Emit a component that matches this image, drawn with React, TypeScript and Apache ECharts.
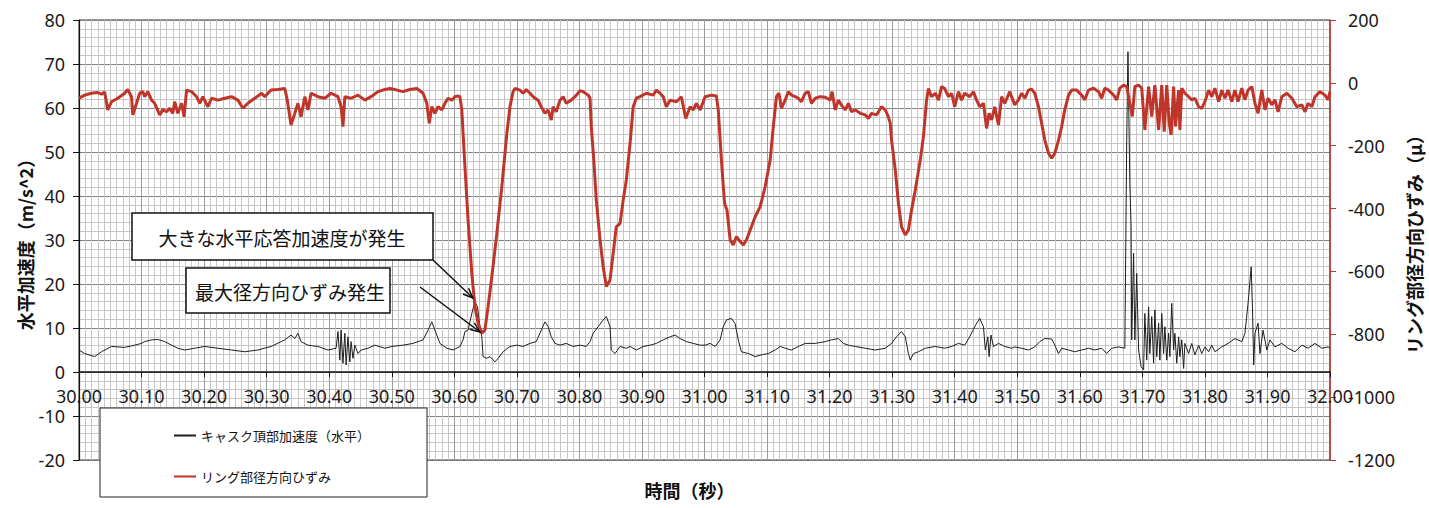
import React, { useEffect, useRef } from "react";
import * as echarts from "echarts";

const NUM_FONT = '"Noto Sans", "Noto Sans CJK JP", sans-serif';
const CJK_FONT = '"Noto Sans CJK JP", "Noto Sans", sans-serif';

const X_MIN = 30.0;
const X_MAX = 32.0;
const X_STEP = 0.1;
const ACC_MIN = -20;
const ACC_MAX = 80;
const ACC_STEP = 10;
const STRAIN_MIN = -1200;
const STRAIN_MAX = 200;
const STRAIN_STEP = 200;

const ACC_NAME = "キャスク頂部加速度（水平）";
const STRAIN_NAME = "リング部径方向ひずみ";
const X_TITLE = "時間（秒）";
const Y_LEFT_TITLE = "水平加速度（m/s^2）";
const Y_RIGHT_TITLE = "リング部径方向ひずみ（μ）";
const NOTE_ACC = "大きな水平応答加速度が発生";
const NOTE_STRAIN = "最大径方向ひずみ発生";

// キャスク頂部加速度（水平） [m/s^2]
const accTimes = [
  30.000, 30.009, 30.025, 30.036, 30.052, 30.073, 30.089, 30.100, 30.105, 30.116,
  30.126, 30.137, 30.148, 30.158, 30.169, 30.185, 30.201, 30.222, 30.244, 30.265,
  30.286, 30.307, 30.329, 30.339, 30.345, 30.350, 30.355, 30.366, 30.382, 30.398,
  30.411, 30.414, 30.417, 30.419, 30.422, 30.425, 30.427, 30.430, 30.433, 30.435,
  30.438, 30.441, 30.446, 30.451, 30.462, 30.473, 30.489,
  30.500, 30.518, 30.534, 30.550, 30.558, 30.564, 30.569, 30.577, 30.588, 30.598,
  30.609, 30.614, 30.617, 30.622, 30.628, 30.633, 30.637, 30.641, 30.644, 30.646,
  30.652, 30.657, 30.665, 30.670, 30.678, 30.689, 30.700, 30.710, 30.721, 30.731,
  30.739, 30.745, 30.750, 30.755, 30.761, 30.769, 30.779, 30.790, 30.801, 30.811,
  30.817, 30.822, 30.830, 30.838, 30.843, 30.849, 30.851, 30.857, 30.865, 30.875,
  30.881, 30.891, 30.902, 30.913, 30.923, 30.934, 30.945, 30.953, 30.961, 30.971,
  30.982, 30.993,
  31.001, 31.009, 31.017, 31.025, 31.030, 31.035, 31.043, 31.049, 31.054, 31.059,
  31.070, 31.081, 31.091, 31.102, 31.113, 31.121, 31.129, 31.139, 31.150, 31.161,
  31.177, 31.193, 31.203, 31.214, 31.222, 31.230, 31.241, 31.257, 31.273, 31.289,
  31.299, 31.307, 31.315, 31.321, 31.326, 31.329, 31.334, 31.342, 31.353, 31.369,
  31.384, 31.395, 31.406, 31.416, 31.424, 31.432, 31.440, 31.446, 31.449, 31.453,
  31.455, 31.458, 31.462, 31.470, 31.480, 31.491,
  31.496, 31.507, 31.518, 31.528, 31.536, 31.544, 31.555, 31.560, 31.566, 31.571,
  31.582, 31.592, 31.603, 31.614, 31.624, 31.635, 31.643, 31.651, 31.662, 31.672,
  31.675, 31.677, 31.679, 31.680, 31.682, 31.683, 31.686, 31.688, 31.691, 31.694,
  31.698, 31.702, 31.704, 31.707, 31.710, 31.712, 31.715, 31.718, 31.720, 31.723,
  31.726, 31.728, 31.731, 31.734, 31.736, 31.739, 31.742, 31.744, 31.747, 31.750,
  31.752, 31.755, 31.758, 31.760, 31.763, 31.766, 31.768, 31.774, 31.779, 31.784,
  31.790, 31.795, 31.800, 31.806, 31.811, 31.816, 31.827, 31.837, 31.848, 31.859,
  31.864, 31.869, 31.874, 31.876, 31.878, 31.880, 31.885, 31.888, 31.893, 31.899,
  31.904, 31.912, 31.923, 31.933, 31.944, 31.955, 31.965, 31.976, 31.987, 31.997,
  32.000,
];
const accValues = [
  5.0, 4.2, 3.5, 4.6, 5.8, 5.6, 6.1, 6.5, 6.9, 7.3,
  7.4, 6.9, 6.1, 5.4, 5.0, 5.4, 5.8, 5.4, 5.0, 4.6,
  5.0, 5.8, 7.3, 8.4, 7.6, 8.8, 6.9, 6.1, 5.8, 5.0,
  5.4, 9.2, 2.7, 9.5, 2.0, 8.8, 1.6, 8.0, 2.3, 6.9,
  3.1, 6.1, 4.2, 5.0, 5.4, 6.1, 5.4,
  5.8, 6.1, 6.5, 7.3, 9.5, 11.4, 9.5, 6.5, 5.4, 5.0,
  5.8, 7.3, 9.2, 9.5, 13.3, 16.0, 14.8, 10.3, 8.0, 3.5,
  3.1, 3.5, 2.3, 3.1, 4.6, 5.8, 6.1, 5.8, 6.5, 6.9,
  9.5, 11.4, 10.3, 8.0, 6.5, 6.1, 6.5, 5.8, 6.1, 5.8,
  6.9, 8.8, 10.3, 11.8, 12.6, 10.3, 5.0, 4.2, 5.8, 5.4,
  5.8, 5.0, 5.8, 6.1, 6.5, 7.3, 8.0, 8.4, 7.6, 6.9,
  6.5, 6.1,
  6.1, 6.5, 5.8, 7.3, 10.3, 11.8, 12.2, 11.0, 7.3, 4.6,
  4.2, 3.5, 3.9, 4.2, 5.0, 5.8, 5.4, 5.0, 5.8, 6.5,
  6.5, 6.9, 7.3, 7.6, 6.5, 6.1, 5.8, 5.4, 5.0, 5.4,
  6.5, 8.0, 9.2, 8.0, 4.2, 2.7, 4.2, 4.6, 5.4, 5.8,
  5.4, 5.8, 6.5, 6.1, 8.0, 10.3, 12.2, 10.3, 5.0, 8.0,
  3.5, 8.4, 5.8, 6.5, 5.8, 5.4,
  5.7, 5.4, 5.0, 5.7, 6.9, 7.6, 7.5, 6.1, 4.2, 5.4,
  5.0, 4.6, 5.0, 5.4, 5.0, 5.4, 4.2, 5.4, 5.7, 5.4,
  52.7, 72.8, 52.7, 42.9, 33.0, 7.3, 27.0, 7.3, 22.4, 5.0,
  1.2, 0.5, 13.3, 2.7, 14.8, 4.2, 12.6, 2.0, 14.1, 3.5,
  11.1, 2.7, 13.3, 4.2, 10.3, 2.7, 8.8, 3.5, 15.6, 5.0,
  8.8, 2.0, 8.0, 3.5, 7.3, 0.8, 6.5, 4.2, 6.5, 3.9,
  6.1, 4.2, 5.7, 4.6, 6.1, 4.6, 5.7, 6.5, 7.6, 6.9,
  8.8, 15.6, 23.9, 14.8, 1.6, 8.8, 11.1, 4.2, 9.5, 5.0,
  7.3, 5.7, 6.5, 5.4, 4.6, 6.1, 5.4, 6.5, 5.4, 5.7,
  5.4,
];

// リング部径方向ひずみ [μ]
const strainTimes = [
  30.000, 30.009, 30.020, 30.030, 30.036, 30.041, 30.046, 30.052, 30.062, 30.073,
  30.078, 30.084, 30.086, 30.092, 30.097, 30.102, 30.105, 30.110, 30.116, 30.121,
  30.129, 30.134, 30.140, 30.145, 30.150, 30.153, 30.158, 30.164, 30.168, 30.172,
  30.180, 30.188, 30.193, 30.198, 30.206, 30.212, 30.222, 30.233, 30.244, 30.254,
  30.262, 30.270, 30.281, 30.292, 30.297, 30.307, 30.318, 30.329, 30.333, 30.339,
  30.345, 30.350, 30.355, 30.361, 30.366, 30.371, 30.382, 30.393, 30.403, 30.414,
  30.419, 30.422, 30.425, 30.435, 30.446, 30.457, 30.467, 30.478, 30.489,
  30.497, 30.508, 30.518, 30.529, 30.540, 30.545, 30.550, 30.556, 30.560, 30.564,
  30.569, 30.574, 30.580, 30.585, 30.590, 30.596, 30.601, 30.606, 30.609, 30.612,
  30.617, 30.622, 30.628, 30.633, 30.638, 30.644, 30.649, 30.654, 30.660, 30.668,
  30.676, 30.684, 30.689, 30.694, 30.697, 30.705, 30.710, 30.715, 30.721, 30.726,
  30.734, 30.739, 30.745, 30.750, 30.755, 30.758, 30.763, 30.769, 30.774, 30.779,
  30.787, 30.793, 30.801, 30.806, 30.814, 30.817, 30.819, 30.823, 30.827, 30.833,
  30.838, 30.843, 30.849, 30.854, 30.859, 30.865, 30.870, 30.875, 30.881, 30.886,
  30.891, 30.897, 30.907, 30.918, 30.923, 30.929, 30.934, 30.939, 30.945, 30.955,
  30.963, 30.970, 30.977, 30.982, 30.987, 30.993,
  31.001, 31.011, 31.019, 31.022, 31.027, 31.032, 31.036, 31.041, 31.046, 31.051,
  31.057, 31.062, 31.067, 31.075, 31.081, 31.089, 31.097, 31.105, 31.110, 31.115,
  31.119, 31.123, 31.129, 31.134, 31.139, 31.145, 31.150, 31.155, 31.161, 31.166,
  31.171, 31.177, 31.185, 31.193, 31.201, 31.204, 31.209, 31.214, 31.219, 31.225,
  31.230, 31.235, 31.241, 31.249, 31.257, 31.262, 31.267, 31.275, 31.283, 31.289,
  31.294, 31.297, 31.299, 31.305, 31.310, 31.315, 31.321, 31.326, 31.331, 31.337,
  31.345, 31.350, 31.355, 31.358, 31.363, 31.369, 31.374, 31.379, 31.384, 31.390,
  31.395, 31.400, 31.406, 31.411, 31.416, 31.424, 31.430, 31.435, 31.440, 31.446,
  31.451, 31.455, 31.459, 31.464, 31.470, 31.475, 31.480, 31.488,
  31.496, 31.502, 31.507, 31.512, 31.518, 31.523, 31.528, 31.534, 31.539, 31.544,
  31.550, 31.555, 31.560, 31.566, 31.571, 31.576, 31.582, 31.587, 31.595, 31.603,
  31.608, 31.614, 31.622, 31.630, 31.635, 31.640, 31.646, 31.654, 31.659, 31.664,
  31.670, 31.675, 31.680, 31.684, 31.688, 31.694, 31.699, 31.704, 31.710, 31.715,
  31.720, 31.726, 31.731, 31.735, 31.739, 31.743, 31.746, 31.750, 31.753, 31.758,
  31.760, 31.763, 31.768, 31.774, 31.779, 31.784, 31.790, 31.795, 31.800, 31.806,
  31.811, 31.816, 31.822, 31.827, 31.832, 31.837, 31.843, 31.848, 31.853, 31.859,
  31.864, 31.869, 31.875, 31.880, 31.885, 31.891, 31.896, 31.901, 31.907, 31.912,
  31.917, 31.923, 31.931, 31.939, 31.947, 31.955, 31.960, 31.965, 31.971, 31.976,
  31.984, 31.992, 31.997, 32.000,
];
const strainValues = [
  -49, -39, -33, -31, -36, -29, -86, -60, -49, -33,
  -21, -44, -102, -65, -33, -28, -44, -28, -55, -65,
  -102, -86, -92, -81, -97, -60, -97, -65, -108, -23,
  -28, -44, -65, -44, -76, -49, -55, -49, -44, -55,
  -81, -65, -49, -33, -44, -23, -21, -18, -55, -134,
  -97, -65, -108, -44, -86, -33, -44, -49, -33, -44,
  -76, -139, -44, -49, -39, -55, -44, -28, -21,
  -18, -23, -28, -21, -18, -25, -33, -65, -129, -76,
  -97, -76, -86, -65, -49, -55, -44, -42, -44, -86,
  -267, -436, -606, -712, -765, -797, -786, -712, -617, -479,
  -330, -161, -76, -28, -18, -23, -33, -21, -33, -44,
  -55, -76, -97, -86, -118, -76, -92, -55, -44, -65,
  -55, -44, -25, -28, -39, -49, -139, -245, -373, -500,
  -585, -648, -627, -542, -458, -447, -373, -309, -193, -76,
  -49, -44, -33, -39, -23, -33, -44, -76, -55, -60,
  -44, -113, -76, -86, -65, -86,
  -44, -39, -42, -86, -245, -383, -405, -500, -516, -489,
  -505, -516, -500, -458, -426, -394, -330, -245, -139, -44,
  -33, -81, -55, -28, -39, -44, -49, -60, -33, -28,
  -65, -49, -44, -46, -55, -28, -86, -55, -71, -86,
  -65, -92, -86, -97, -102, -113, -97, -102, -76, -86,
  -108, -129, -182, -277, -383, -458, -484, -468, -405, -341,
  -245, -171, -55, -18, -44, -33, -55, -12, -18, -44,
  -33, -76, -28, -55, -33, -44, -28, -55, -76, -65,
  -145, -97, -118, -76, -134, -44, -65, -28,
  -70, -54, -33, -49, -23, -20, -33, -76, -129, -182,
  -224, -240, -224, -182, -139, -86, -39, -23, -23, -39,
  -54, -23, -17, -28, -49, -17, -23, -39, -54, -17,
  -7, -12, -65, -107, -12, -7, -17, -150, -12, -107,
  -7, -150, -7, -155, -7, -129, -166, -12, -139, -23,
  -150, -17, -33, -44, -54, -49, -76, -81, -60, -23,
  -44, -17, -60, -23, -49, -23, -60, -23, -60, -17,
  -54, -23, -12, -65, -97, -23, -86, -49, -70, -54,
  -92, -44, -33, -49, -76, -70, -92, -65, -76, -44,
  -28, -39, -54, -28,
];

const ACC_COLOR = "#1e1e1e";
const STRAIN_COLOR = "#c0352a";

export default function App() {
  const ref = useRef<HTMLDivElement>(null);

  useEffect(() => {
    if (!ref.current) return;
    const chart = echarts.init(ref.current, undefined, { renderer: "svg" });

    const accData = accTimes.map((t, i) => [t, accValues[i]]);
    const strainData = strainTimes.map((t, i) => [t, strainValues[i]]);

    const arrowStyle = { stroke: "#111", lineWidth: 1.5, fill: null };

    chart.setOption({
      animation: false,
      backgroundColor: "#ffffff",
      textStyle: { fontFamily: NUM_FONT },
      grid: {
        left: 79,
        right: 99,
        top: 20,
        bottom: 48,
        outerBoundsMode: "none",
        containLabel: false,
        show: true,
        borderColor: "#333",
        borderWidth: 1,
        backgroundColor: "transparent",
      },
      xAxis: {
        type: "value",
        min: X_MIN,
        max: X_MAX,
        interval: X_STEP,
        name: X_TITLE,
        nameLocation: "middle",
        nameGap: 21,
        nameMoveOverlap: false,
        nameTextStyle: {
          fontSize: 18,
          fontWeight: "bold",
          color: "#111",
          fontFamily: CJK_FONT,
          padding: [0, 30, 0, 0],
        },
        axisLine: { show: true, onZero: true, onZeroAxisIndex: 0, lineStyle: { color: "#111", width: 1.5 } },
        axisTick: { show: true, inside: false, length: 5, lineStyle: { color: "#111" } },
        axisLabel: {
          fontSize: 18,
          color: "#1a1a1a",
          margin: -73,
          formatter: (v: number) => v.toFixed(2),
        },
        splitLine: { show: true, lineStyle: { color: "#9c9c9c", width: 1 } },
        minorTick: { show: false, splitNumber: 10 },
        minorSplitLine: { show: true, lineStyle: { color: "#c6c6c6", width: 1 } },
      },
      yAxis: [
        {
          type: "value",
          position: "left",
          min: ACC_MIN,
          max: ACC_MAX,
          interval: ACC_STEP,
          name: Y_LEFT_TITLE,
          nameLocation: "middle",
          nameRotate: 90,
          nameGap: 45,
          nameMoveOverlap: false,
          nameTextStyle: { fontSize: 18, fontWeight: "bold", color: "#111", fontFamily: CJK_FONT },
          axisLine: { show: true, onZero: false, lineStyle: { color: "#111", width: 1.2 } },
          axisTick: { show: true, length: 6, lineStyle: { color: "#111" } },
          axisLabel: { fontSize: 18, color: "#1a1a1a", margin: 14 },
          splitLine: { show: true, lineStyle: { color: "#7e7e7e", width: 1 } },
          minorTick: { show: false, splitNumber: 5 },
          minorSplitLine: { show: true, lineStyle: { color: "#c6c6c6", width: 1 } },
        },
        {
          type: "value",
          position: "right",
          min: STRAIN_MIN,
          max: STRAIN_MAX,
          interval: STRAIN_STEP,
          name: Y_RIGHT_TITLE,
          nameLocation: "middle",
          nameRotate: 90,
          nameGap: 75,
          nameMoveOverlap: false,
          nameTextStyle: { fontSize: 18, fontWeight: "bold", color: "#111", fontFamily: CJK_FONT },
          axisLine: { show: true, onZero: false, lineStyle: { color: STRAIN_COLOR, width: 1.5 } },
          axisTick: { show: true, length: 6, lineStyle: { color: STRAIN_COLOR } },
          axisLabel: { fontSize: 18, color: "#1a1a1a", margin: 18, formatter: (v: number) => String(v) },
          splitLine: { show: false },
        },
      ],
      legend: {
        orient: "vertical",
        left: 168,
        top: 424,
        itemWidth: 22,
        itemHeight: 14,
        itemGap: 28,
        z: 200,
        itemStyle: { opacity: 0 },
        textStyle: { fontSize: 13, color: "#111", fontFamily: CJK_FONT },
        data: [ACC_NAME, STRAIN_NAME],
      },
      series: [
        {
          name: ACC_NAME,
          type: "line",
          yAxisIndex: 0,
          data: accData,
          symbol: "none",
          showSymbol: false,
          lineStyle: { color: ACC_COLOR, width: 1 },
          itemStyle: { color: ACC_COLOR },
          z: 3,
        },
        {
          name: STRAIN_NAME,
          type: "line",
          yAxisIndex: 1,
          data: strainData,
          symbol: "none",
          showSymbol: false,
          lineStyle: { color: STRAIN_COLOR, width: 3 },
          itemStyle: { color: STRAIN_COLOR },
          z: 4,
        },
      ],
      graphic: [
        {
          type: "rect",
          z: 100,
          shape: { x: 100, y: 408, width: 327, height: 89 },
          style: { fill: "#fff", stroke: "#222", lineWidth: 1 },
        },
        {
          type: "rect",
          z: 100,
          shape: { x: 132, y: 213, width: 301, height: 47 },
          style: { fill: "#fff", stroke: "#111", lineWidth: 1.5 },
        },
        {
          type: "text",
          z: 101,
          x: 282,
          y: 237,
          style: {
            text: NOTE_ACC,
            fontSize: 19,
            fontFamily: CJK_FONT,
            fill: "#111",
            align: "center",
            verticalAlign: "middle",
          },
        },
        {
          type: "rect",
          z: 100,
          shape: { x: 186, y: 268, width: 204, height: 45 },
          style: { fill: "#fff", stroke: "#111", lineWidth: 1.5 },
        },
        {
          type: "text",
          z: 101,
          x: 290,
          y: 291,
          style: {
            text: NOTE_STRAIN,
            fontSize: 19,
            fontFamily: CJK_FONT,
            fill: "#111",
            align: "center",
            verticalAlign: "middle",
          },
        },
        { type: "line", z: 101, shape: { x1: 433, y1: 260, x2: 473, y2: 298 }, style: arrowStyle },
        { type: "polyline", z: 101, shape: { points: [[463, 294], [473, 298], [468.5, 288.2]] }, style: arrowStyle },
        { type: "line", z: 101, shape: { x1: 420, y1: 287, x2: 480, y2: 332 }, style: arrowStyle },
        { type: "polyline", z: 101, shape: { points: [[469.6, 329.2], [480, 332], [474.4, 322.8]] }, style: arrowStyle },
      ],
    });

    return () => {
      chart.dispose();
    };
  }, []);

  return (
    <div
      ref={ref}
      style={{ position: "fixed", left: 0, top: 0, width: 1429, height: 508, background: "#fff" }}
    />
  );
}
